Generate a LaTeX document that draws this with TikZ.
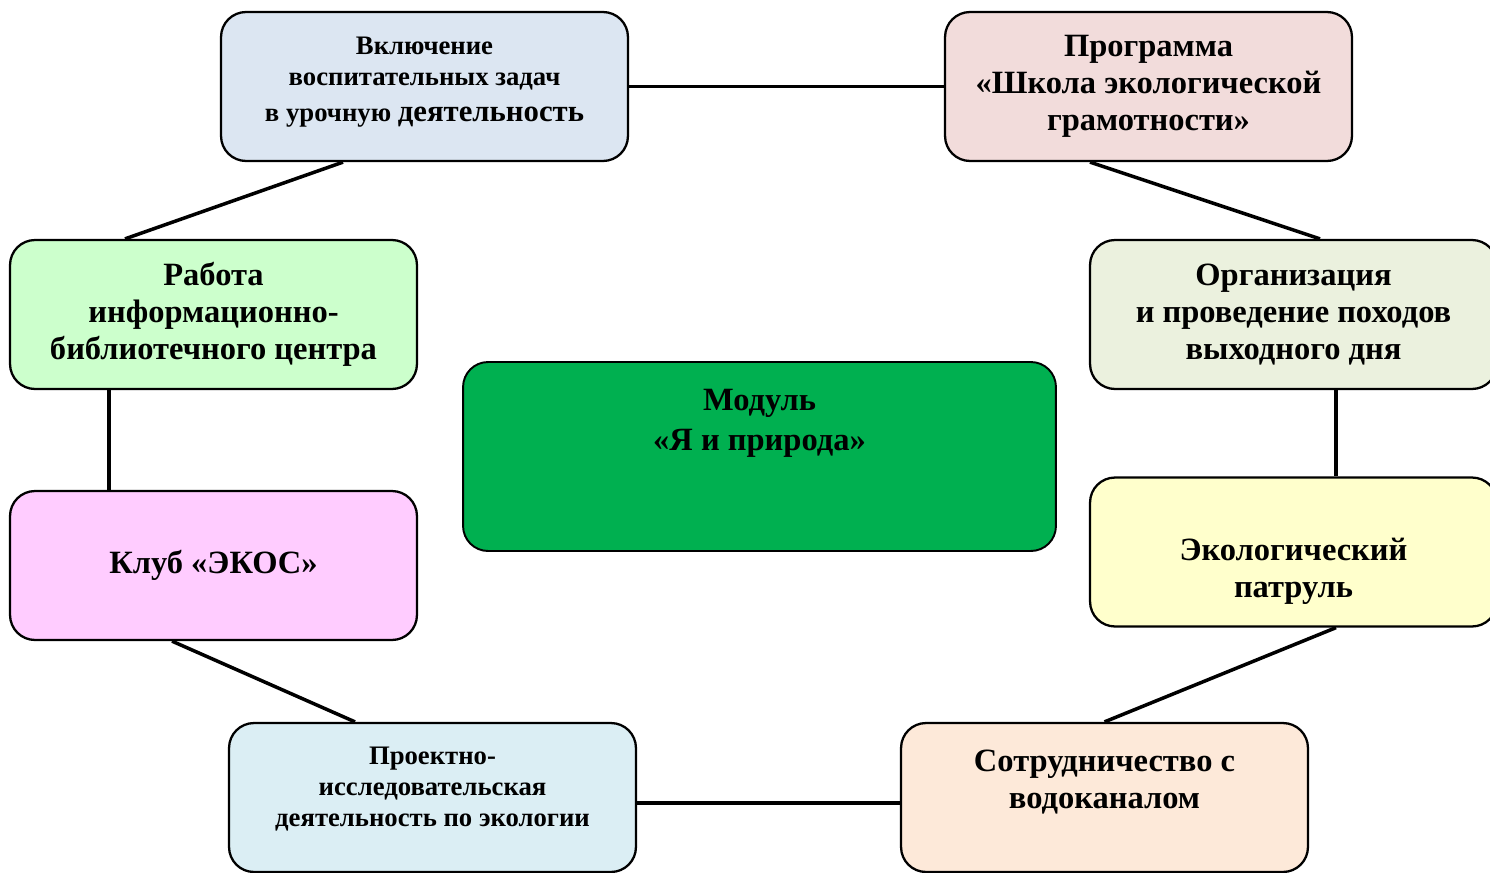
\documentclass[tikz,border=0pt]{standalone}
\usepackage{fontspec}
\setmainfont{Liberation Serif}
\usetikzlibrary{calc}
\definecolor{inlesson}{HTML}{DCE6F2}
\definecolor{program}{HTML}{F2DCDB}
\definecolor{library}{HTML}{CCFFCC}
\definecolor{hiking}{HTML}{EBF1DE}
\definecolor{module}{HTML}{00B050}
\definecolor{club}{HTML}{FFCCFF}
\definecolor{patrol}{HTML}{FFFFCC}
\definecolor{project}{HTML}{DBEEF4}
\definecolor{water}{HTML}{FDE9D9}
\tikzset{
  box/.style={draw, line width=1.3pt, rounded corners=0.5cm, fill=#1,
    minimum width=8.14cm, minimum height=2.98cm, align=center,
    font=\bfseries\fontsize{18.5}{21}\selectfont},
  smallbox/.style={box=#1, text depth=12pt,
    font=\bfseries\fontsize{15.2}{17.5}\selectfont}
}
\begin{document}
\begin{tikzpicture}[x=0.02cm, y=-0.02cm]
      \clip (0,0) rectangle (1490,872);
      \draw
        (424.5,86.5) node[smallbox=inlesson, text depth=8.5pt] (1){Включение\\воспитательных задач\\[3pt]в урочную {\fontsize{17.5}{20}\selectfont деятельность}}
        (1148.5,86.5) node[box=program] (2){Программа\\«Школа экологической\\грамотности»}
        (213.5,314.5) node[box=library] (3){Работа\\информационно-\\библиотечного центра}
        (1293.5,314.5) node[box=hiking] (4){Организация\\и проведение походов\\выходного дня}
        (213.5,565.5) node[box=club] (5){Клуб «ЭКОС»}
        (1293.5,552) node[box=patrol] (6){\mbox{}\\[14pt]Экологический\\патруль}
        (432.5,797.5) node[smallbox=project] (7){Проектно-\\исследовательская\\деятельность по экологии}
        (1104.5,797.5) node[box=water] (8){Сотрудничество с\\водоканалом\\\mbox{}}
        (759.5,456.5) node[box=module, line width=1.1pt, minimum width=11.86cm, minimum height=3.78cm,
          font=\bfseries\fontsize{18.5}{22.7}\selectfont] (0){Модуль\\«Я и природа»\\\mbox{}\\[-4pt]\mbox{}};
      \begin{scope}[-, line width=2pt]
        \draw (1.east) to (2.west);
        \draw ($(2.south)+(-58.5,0)$) to ($(4.north)+(26.5,0)$);
        \draw ($(4.south)+(42.5,0)$) to ($(6.north)+(42.5,0)$);
        \draw ($(6.south)+(42.5,0)$) to (8.north);
        \draw ($(8.west)+(0,5.5)$) to ($(7.east)+(0,5.5)$);
        \draw ($(7.north)+(-77.5,0)$) to ($(5.south)+(-41.5,0)$);
        \draw ($(5.north)+(-104.5,0)$) to ($(3.south)+(-104.5,0)$);
        \draw ($(3.north)+(-88.5,0)$) to ($(1.south)+(-81.5,0)$);
      \end{scope}
    \end{tikzpicture}
\end{document}
